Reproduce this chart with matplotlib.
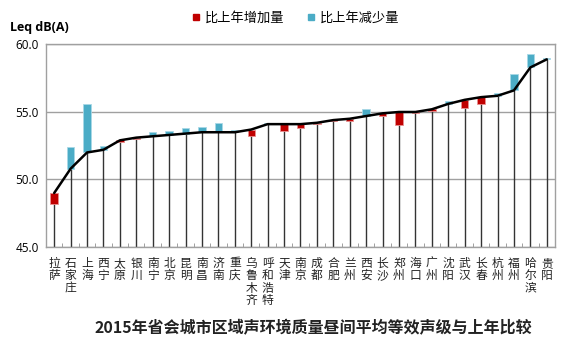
import numpy as np
import matplotlib.pyplot as plt
from matplotlib.lines import Line2D

plt.rcParams['font.family'] = ['Open Sans', 'Noto Sans CJK SC', 'DejaVu Sans']

# cities sorted by 2015 daytime Leq
cities = ['拉萨', '石家庄', '上海', '西宁', '太原', '银川', '南宁', '北京', '昆明', '南昌',
          '济南', '重庆', '乌鲁木齐', '呼和浩特', '天津', '南京', '成都', '合肥', '兰州', '西安',
          '长沙', '郑州', '海口', '广州', '沈阳', '武汉', '长春', '杭州', '福州', '哈尔滨', '贵阳']
leq_2015 = [49.0, 50.8, 52.0, 52.2, 52.9, 53.1, 53.2, 53.3, 53.4, 53.5,
            53.5, 53.5, 53.7, 54.1, 54.1, 54.1, 54.2, 54.4, 54.5, 54.7,
            54.9, 55.0, 55.0, 55.2, 55.6, 55.9, 56.1, 56.2, 56.6, 58.3, 58.9]
leq_2014 = [48.2, 52.4, 55.6, 52.5, 52.8, 53.0, 53.5, 53.6, 53.8, 53.9,
            54.2, 53.7, 53.2, 54.2, 53.6, 53.8, 54.1, 54.3, 54.3, 55.2,
            54.7, 54.0, 54.9, 55.1, 55.8, 55.3, 55.6, 56.4, 57.8, 59.3, 59.0]
yticks = [45.0, 50.0, 55.0, 60.0]

RED = '#C00000'
BLUE = '#4BACC6'

cur = np.array(leq_2015)
prev = np.array(leq_2014)
x = np.arange(len(cities))

fig = plt.figure(figsize=(5.67, 3.47), dpi=100)
ax = fig.add_axes([0.0811, 0.2882, 0.8977, 0.5836])

# drop lines from each point to the bottom
ax.vlines(x, 45, cur, colors='#333333', lw=1.0, zorder=2)

# change vs previous year
up = cur >= prev
ax.bar(x[up], (cur - prev)[up], bottom=prev[up], width=0.45, color=RED,
       edgecolor='#e89090', lw=0.6, zorder=3)
ax.bar(x[~up], (prev - cur)[~up], bottom=cur[~up], width=0.45, color=BLUE,
       edgecolor='#a8d8e6', lw=0.6, zorder=3)

ax.plot(x, cur, color='black', lw=1.8, zorder=4, solid_capstyle='round')

ax.set_xlim(-0.5, len(cities) - 0.5)
ax.set_ylim(45, 60)
ax.set_yticks(yticks)
ax.set_yticklabels([f'{v:.1f}' for v in yticks], fontsize=8.5)
ax.yaxis.grid(True, color='#a0a0a0', lw=1.0)
ax.set_axisbelow(True)
ax.tick_params(axis='y', length=0, pad=5)

ax.set_xticks(x)
ax.set_xticklabels(['\n'.join(c) for c in cities], fontsize=8.5, color='#222222',
                   family=['Noto Sans CJK SC'], linespacing=0.95, va='top')
ax.tick_params(axis='x', length=0, pad=7)
ax.set_xticks(np.arange(len(cities) + 1) - 0.5, minor=True)
ax.tick_params(axis='x', which='minor', direction='in', length=3, color='#909090')

for s in ax.spines.values():
    s.set_color('#a0a0a0')
    s.set_linewidth(1.0)

fig.text(0.018, 0.922, 'Leq dB(A)', fontsize=9, fontweight='bold', va='center')

handles = [Line2D([], [], marker='s', ls='', color=RED, markersize=5),
           Line2D([], [], marker='s', ls='', color=BLUE, markersize=5)]
fig.legend(handles, ['比上年增加量', '比上年减少量'], loc='center', ncol=2,
           bbox_to_anchor=(0.52, 0.948), frameon=False, handlelength=0.8,
           handletextpad=0.3, columnspacing=1.6,
           prop={'family': ['Noto Sans CJK SC'], 'size': 9.5})

fig.text(0.552, 0.055, '2015年省会城市区域声环境质量昼间平均等效声级与上年比较',
         fontsize=11.5, fontweight='bold', ha='center', va='center', color='#222222',
         family=['Noto Sans CJK SC', 'DejaVu Sans'])

fig.savefig('out.png', dpi=100)
